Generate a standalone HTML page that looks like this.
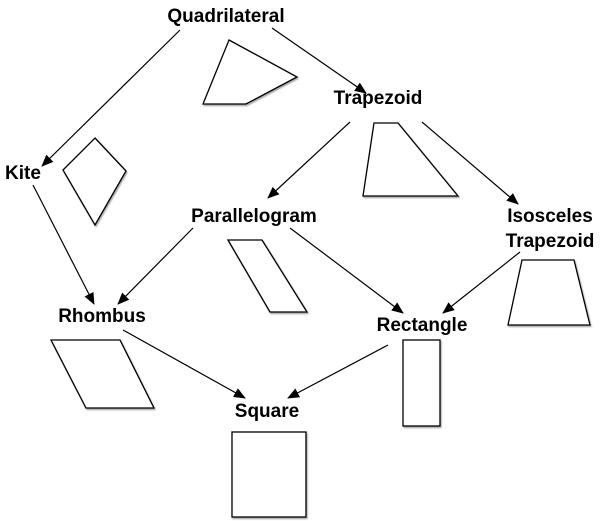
<!DOCTYPE html>
<html><head><meta charset="utf-8"><style>
html,body{margin:0;padding:0;background:#fff;}
svg{display:block;}
text{font-family:"Liberation Sans",Arial,sans-serif;font-weight:bold;font-size:19px;fill:#000;text-anchor:middle;}
</style></head><body>
<svg width="600" height="521" viewBox="0 0 600 521" xmlns="http://www.w3.org/2000/svg">
<defs>
<marker id="a" markerWidth="12" markerHeight="10" refX="11" refY="5" orient="auto" markerUnits="userSpaceOnUse">
<path d="M0,0 L12,5 L0,10 Z" fill="#000"/>
</marker>
<filter id="s" x="-10%" y="-10%" width="130%" height="130%"><feDropShadow dx="1" dy="1.5" stdDeviation="0.8" flood-opacity="0.35"/></filter>
</defs>
<g stroke="#000" stroke-width="1.2" fill="none" marker-end="url(#a)">
<line x1="180" y1="30" x2="42" y2="166"/>
<line x1="272" y1="28" x2="366" y2="93"/>
<line x1="350" y1="122" x2="268" y2="198"/>
<line x1="422" y1="122" x2="518" y2="204"/>
<line x1="33" y1="185" x2="94" y2="304"/>
<line x1="193" y1="228" x2="118" y2="304"/>
<line x1="290" y1="228" x2="403" y2="313"/>
<line x1="520" y1="252" x2="443" y2="313"/>
<line x1="123" y1="330" x2="245" y2="398"/>
<line x1="388" y1="345" x2="288" y2="398"/>
</g>
<g stroke="#000" stroke-width="1.3" fill="#fff" filter="url(#s)">
<polygon points="229,40 297,77 246,104 203,104"/>
<polygon points="374,123 398,123 458,196 363,196"/>
<polygon points="95,138 126,171 95,225 63,170"/>
<polygon points="228,240 262,240 307,312 270,312"/>
<polygon points="522,260 574,260 590,325 508,325"/>
<polygon points="51,340 120,340 154,408 86,408"/>
<rect x="403" y="340" width="37" height="86"/>
<rect x="232" y="432" width="74" height="85"/>
</g>
<text x="226" y="22">Quadrilateral</text>
<text x="378" y="104">Trapezoid</text>
<text x="23" y="179">Kite</text>
<text x="254" y="222">Parallelogram</text>
<text x="550" y="222">Isosceles</text>
<text x="550" y="247">Trapezoid</text>
<text x="102" y="322">Rhombus</text>
<text x="422" y="331">Rectangle</text>
<text x="267" y="417">Square</text>
</svg>
</body></html>
